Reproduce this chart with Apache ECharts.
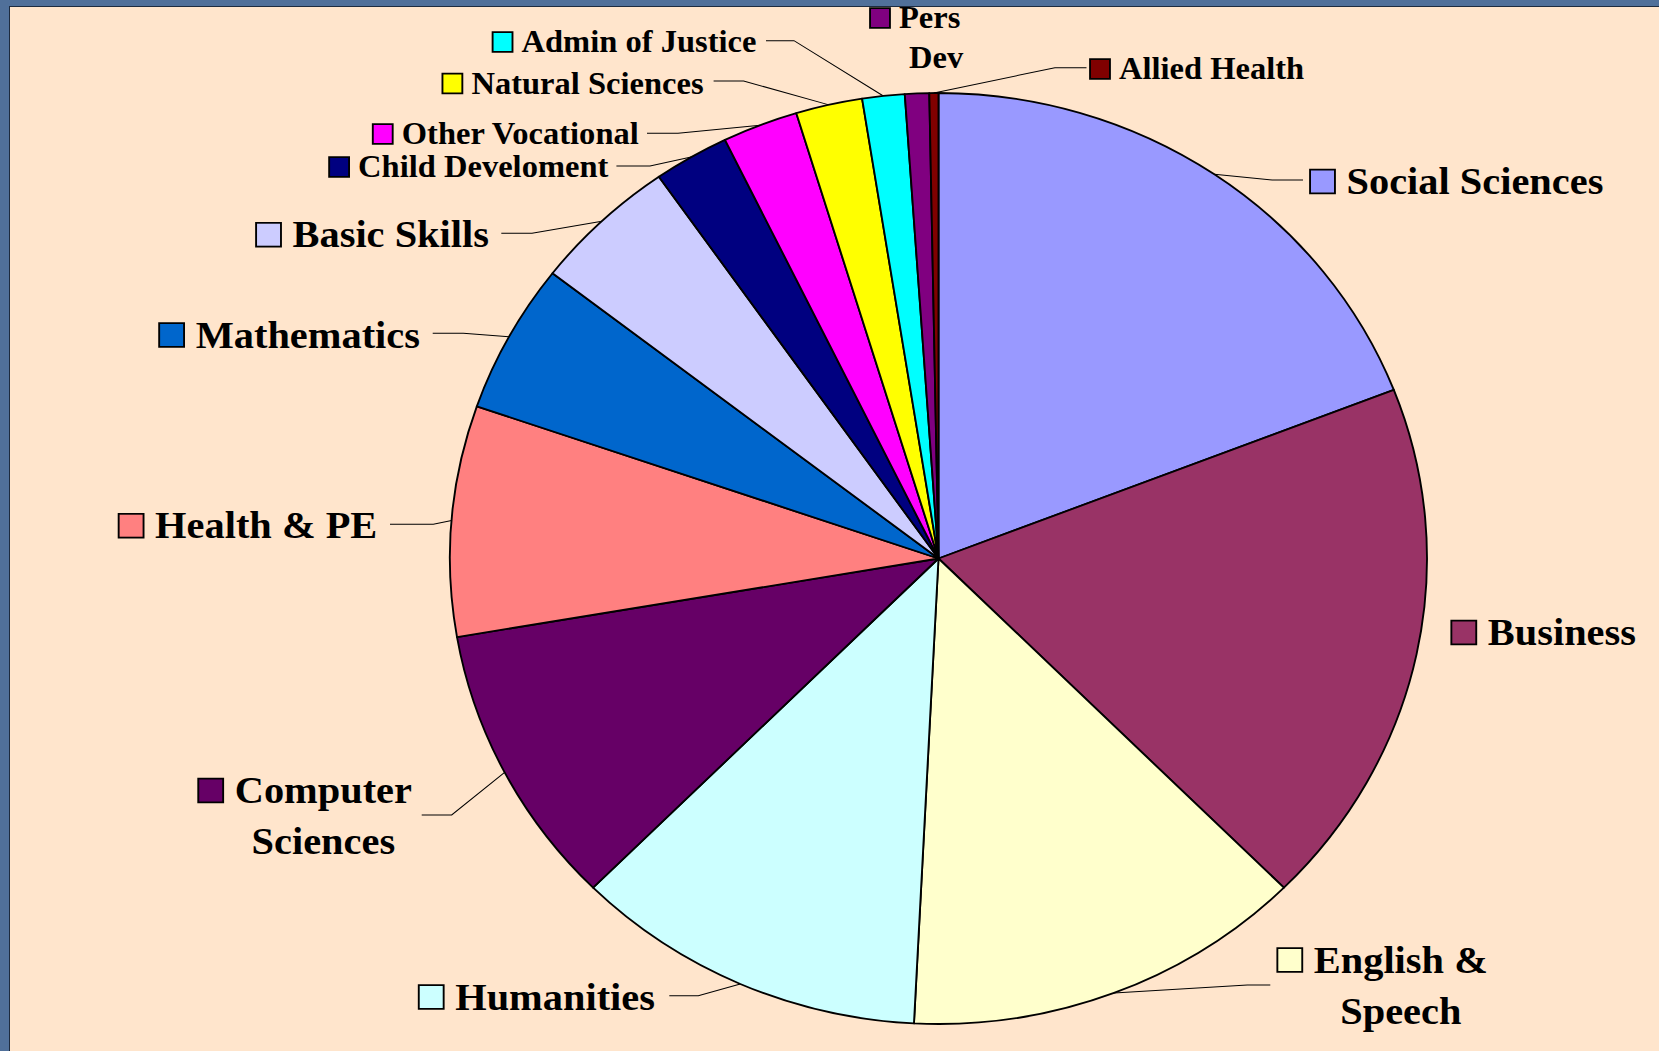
<!DOCTYPE html>
<html>
<head>
<meta charset="utf-8">
<script src="https://cdn.jsdelivr.net/npm/echarts@6/dist/echarts.min.js"></script>
<style>
html, body { margin: 0; padding: 0; width: 1659px; height: 1051px; overflow: hidden; background: #50709a; }
#panel { position: absolute; left: 9px; top: 6px; right: 0; bottom: 0; background: #FFE5CC;
         border-left: 1px solid #1d2b3f; border-top: 1px solid #1d2b3f; }
#chart { position: absolute; left: 0; top: 0; width: 1581px; height: 1051px; transform-origin: 0 0; }
</style>
</head>
<body>
<div id="panel"></div>
<div id="chart"></div>
<script>
// ---- data ----
const categories = [
  'Social Sciences', 'Business', 'English &\nSpeech', 'Humanities', 'Computer\nSciences',
  'Health & PE', 'Mathematics', 'Basic Skills', 'Child Develoment', 'Other Vocational',
  'Natural Sciences', 'Admin of Justice', 'Pers\nDev', 'Allied Health'
];
const values = [19.1, 18.4, 13.3, 11.7, 9.8, 8.0, 5.2, 4.8, 2.5, 2.5, 2.2, 1.4, 0.8, 0.3];
const colors = [
  '#9999FF', '#993366', '#FFFFCC', '#CCFFFF', '#660066', '#FF8080', '#0066CC',
  '#CCCCFF', '#000080', '#FF00FF', '#FFFF00', '#00FFFF', '#800080', '#800000'
];
const smallLabel = [false, false, false, false, false, false, false, false, true, true, true, true, true, true];

// ---- layout (screen px) ----
const SX = 488.5 / 465.5;            // horizontal stretch of the pie (ellipse)
const CENTER = [938.5, 558.5];
const RADIUS = 465.5;
const FONT = '"Liberation Serif", "Times New Roman", serif';
const LABEL_LAYOUT = [
  { side: 'R', x: 1311,   y: 181.5, ly: 180,   gap: 8,    h: 31 },
  { side: 'R', x: 1452.3, y: 632.5 },
  { side: 'R', x: 1278.3, y: 985.5, ly: 985,   gap: 8,    h: 23 },
  { side: 'L', x: 655,    y: 997,   ly: 995.7, gap: 14.3, h: 29 },
  { side: 'L', x: 412,    y: 816,   ly: 815,   gap: 9.7,  h: 30 },
  { side: 'L', x: 377.3,  y: 525.7, ly: 524.3, gap: 12.7, h: 43.3 },
  { side: 'L', x: 420,    y: 335,   ly: 333.3, gap: 12.7, h: 30.6 },
  { side: 'L', x: 489,    y: 234.7, ly: 233.3, gap: 12.3, h: 30.7 },
  { side: 'L', x: 608.4,  y: 167,   ly: 166,   gap: 8,    h: 33.6 },
  { side: 'L', x: 640,    y: 134,   ly: 133.3, gap: 7,    h: 31 },
  { side: 'L', x: 703.6,  y: 83.5,  ly: 81,    gap: 10,   h: 30 },
  { side: 'L', x: 756.5,  y: 42,    ly: 40.7,  gap: 9.5,  h: 28 },
  { side: 'R', x: 871,    y: 38 },
  { side: 'R', x: 1091,   y: 69,    ly: 67.7,  gap: 4.5,  h: 31.6 }
];
const BIG = { font: 38.5, lh: 51, boxW: 23, boxH: 22, gap: 12.5, sp: 35.5 };
const SMALL = { font: 31, lh: 40, boxW: 18, boxH: 18, gap: 10, sp: 38 };

const dom = document.getElementById('chart');
dom.style.transform = 'scaleX(' + SX + ')';
const chart = echarts.init(dom, null, { renderer: 'svg' });

const rich = {};
['b', 's'].forEach(function (k) {
  const c = k === 'b' ? BIG : SMALL;
  rich['g' + k] = { width: c.gap / SX, align: 'left' };
  rich['t' + k] = { fontSize: c.font, fontWeight: 'bold', fontFamily: FONT, color: '#000', lineHeight: c.lh, align: 'left' };
  rich['p' + k] = { width: c.sp / SX, align: 'center' };
  rich['c' + k] = { fontSize: c.font, fontWeight: 'bold', fontFamily: FONT, color: '#000', lineHeight: c.lh, align: 'center' };
});
categories.forEach(function (n, i) {
  const c = smallLabel[i] ? SMALL : BIG;
  rich['k' + i] = { width: c.boxW / SX, height: c.boxH, backgroundColor: colors[i],
                    borderColor: '#000', borderWidth: 1.8, align: 'left' };
});

function labelText(i) {
  const k = smallLabel[i] ? 's' : 'b';
  const parts = categories[i].split('\n');
  let s = '{k' + i + '|}{g' + k + '|}{t' + k + '|' + parts[0] + '}';
  for (let j = 1; j < parts.length; j++) s += '\n{p' + k + '|}{c' + k + '|' + parts[j] + '}';
  return s;
}

const data = categories.map(function (name, i) {
  return {
    name: name,
    value: values[i],
    itemStyle: { color: colors[i] },
    label: { formatter: labelText(i) },
    labelLine: { show: LABEL_LAYOUT[i].h != null }
  };
});

chart.setOption({
  animation: false,
  backgroundColor: 'transparent',
  series: [{
    type: 'pie',
    silent: true,
    center: [CENTER[0] / SX, CENTER[1]],
    radius: RADIUS,
    startAngle: 90,
    clockwise: true,
    avoidLabelOverlap: false,
    emphasis: { disabled: true },
    itemStyle: { borderColor: '#000', borderWidth: 1.8 },
    label: { show: true, position: 'outside', color: '#000', rich: rich },
    labelLine: { show: true, length: 10, length2: 10, lineStyle: { color: '#000', width: 1 } },
    labelLayout: function (p) {
      const a = LABEL_LAYOUT[p.dataIndex];
      const res = { x: a.x / SX, y: a.y, align: a.side === 'L' ? 'right' : 'left', verticalAlign: 'middle' };
      if (a.h != null && p.labelLinePoints && p.labelLinePoints.length) {
        const dir = a.side === 'L' ? 1 : -1;
        const endX = a.x + dir * a.gap;
        const bendX = endX + dir * a.h;
        res.labelLinePoints = [p.labelLinePoints[0], [bendX / SX, a.ly], [endX / SX, a.ly]];
      }
      return res;
    },
    data: data
  }]
});
</script>
</body>
</html>
